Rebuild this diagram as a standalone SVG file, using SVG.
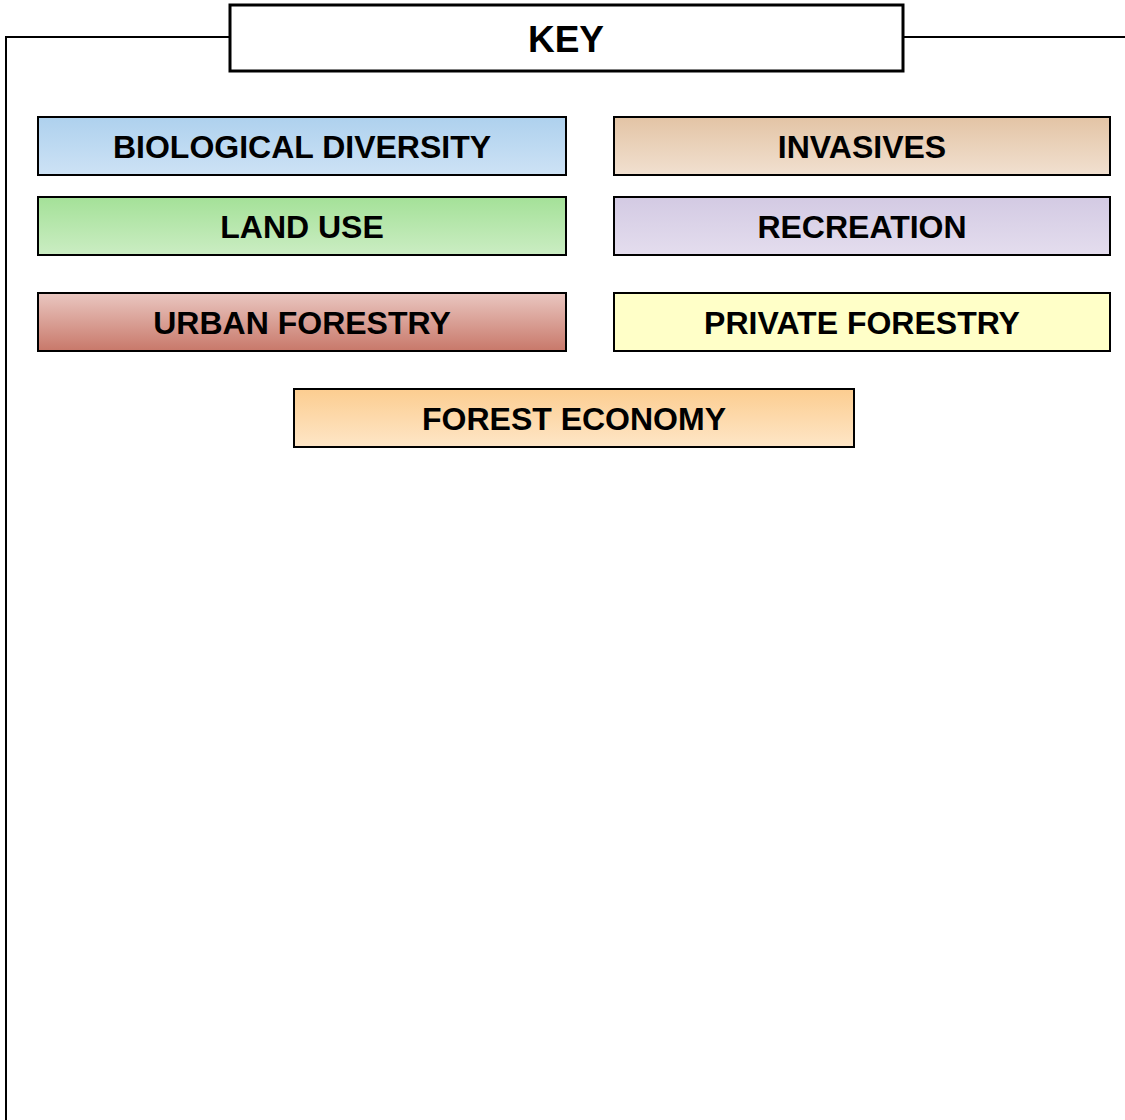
<svg xmlns="http://www.w3.org/2000/svg" width="1125" height="1120" viewBox="0 0 1125 1120">
<style>
.box{stroke:#000;stroke-width:2}
.lbl{font-family:"Liberation Sans",Arial,sans-serif;font-weight:bold;font-size:32px;fill:#000;text-anchor:middle}
.key{font-size:37px}
</style>
<defs>
<linearGradient id="gBio" x1="0" y1="0" x2="0" y2="1"><stop offset="0" stop-color="#aed1ee"/><stop offset="1" stop-color="#cde2f5"/></linearGradient>
<linearGradient id="gInv" x1="0" y1="0" x2="0" y2="1"><stop offset="0" stop-color="#e3c4a5"/><stop offset="1" stop-color="#f1e0d0"/></linearGradient>
<linearGradient id="gLand" x1="0" y1="0" x2="0" y2="1"><stop offset="0" stop-color="#a4e198"/><stop offset="1" stop-color="#cbedc3"/></linearGradient>
<linearGradient id="gRec" x1="0" y1="0" x2="0" y2="1"><stop offset="0" stop-color="#d3cae3"/><stop offset="1" stop-color="#e4ddee"/></linearGradient>
<linearGradient id="gUrb" x1="0" y1="0" x2="0" y2="1"><stop offset="0" stop-color="#eac7c1"/><stop offset="1" stop-color="#c8786a"/></linearGradient>
<linearGradient id="gEco" x1="0" y1="0" x2="0" y2="1"><stop offset="0" stop-color="#fccd90"/><stop offset="1" stop-color="#fee6c7"/></linearGradient>
</defs>
<rect width="1125" height="1120" fill="#fff"/>
<g id="frame">
<path d="M6,1120 V37 H230 M903,37 H1125" fill="none" stroke="#000" stroke-width="2"/>
</g>
<g id="key">
<rect x="230" y="5" width="673" height="66" fill="#fff" stroke="#000" stroke-width="3"/>
<text x="566" y="52" class="lbl key">KEY</text>
</g>
<g id="biological-diversity">
<rect class="box" x="38" y="117" width="528" height="58" fill="url(#gBio)"/>
<text class="lbl" x="302" y="158">BIOLOGICAL DIVERSITY</text>
</g>
<g id="invasives">
<rect class="box" x="614" y="117" width="496" height="58" fill="url(#gInv)"/>
<text class="lbl" x="862" y="158">INVASIVES</text>
</g>
<g id="land-use">
<rect class="box" x="38" y="197" width="528" height="58" fill="url(#gLand)"/>
<text class="lbl" x="302" y="238">LAND USE</text>
</g>
<g id="recreation">
<rect class="box" x="614" y="197" width="496" height="58" fill="url(#gRec)"/>
<text class="lbl" x="862" y="238">RECREATION</text>
</g>
<g id="urban-forestry">
<rect class="box" x="38" y="293" width="528" height="58" fill="url(#gUrb)"/>
<text class="lbl" x="302" y="334">URBAN FORESTRY</text>
</g>
<g id="private-forestry">
<rect class="box" x="614" y="293" width="496" height="58" fill="#ffffc8"/>
<text class="lbl" x="862" y="334">PRIVATE FORESTRY</text>
</g>
<g id="forest-economy">
<rect class="box" x="294" y="389" width="560" height="58" fill="url(#gEco)"/>
<text class="lbl" x="574" y="430">FOREST ECONOMY</text>
</g>
<g id="connectors"></g>
</svg>
